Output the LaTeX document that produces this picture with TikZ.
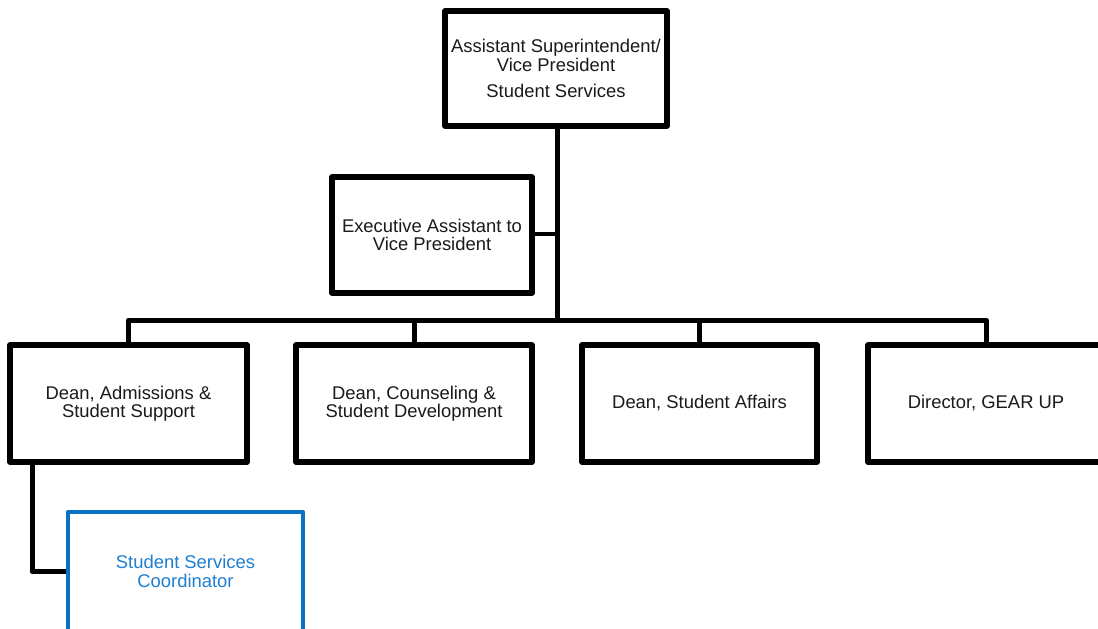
\documentclass[tikz,border=0pt]{standalone}
\usepackage{fontspec}
\setmainfont{Liberation Sans}
\definecolor{ink}{HTML}{1A1A1A}
\definecolor{blueline}{HTML}{0A72C4}
\definecolor{bluetext}{HTML}{1E7FD0}
\begin{document}
\begin{tikzpicture}[x=1pt,y=-1pt,
  every node/.style={font=\fontsize{18.4}{18.5}\selectfont, text=ink},
  box/.style={draw=black, line width=5.2pt, rectangle, align=center, inner sep=0pt, line join=round},
  bluebox/.style={draw=blueline, line width=4.6pt, rectangle, align=center, inner sep=0pt, text=bluetext, line join=round},
  conn/.style={draw=black, line width=5pt, line join=round},
  thinconn/.style={draw=black, line width=3.6pt}]
\useasboundingbox (0,0) rectangle (1098,629);
\clip (0,0) rectangle (1098,629);
\fill[white] (0,0) rectangle (1098,629);

\coordinate (bus) at (557,320);
\coordinate (spine) at (557,126);
\coordinate (exj) at (557,234);

\node[box, minimum width=222pt, minimum height=115pt] (top) at (556,68.5)
  {Assistant Superintendent/\\Vice President\\[8pt]Student Services};
\node[box, minimum width=200pt, minimum height=116pt] (exec) at (432,235)
  {Executive Assistant to\\Vice President};
\node[box, minimum width=237pt, minimum height=117pt] (d1) at (128.5,403.5)
  {Dean, Admissions \&\\Student Support};
\node[box, minimum width=236pt, minimum height=117pt] (d2) at (414,403.5)
  {Dean, Counseling \&\\Student Development};
\node[box, minimum width=235pt, minimum height=117pt] (d3) at (699.5,403.5)
  {Dean, Student Affairs};
\node[box, minimum width=236pt, minimum height=117pt] (d4) at (986,403.5)
  {Director, GEAR UP};
\node[bluebox, minimum width=235pt, minimum height=119pt] (coord) at (185.5,571.5)
  {Student Services\\Coordinator};

\coordinate (d1drop) at (32,462);

\draw[conn] (top.south -| spine) -- (bus);
\draw[thinconn] (exec.east |- exj) -- (exj);
\draw[conn] (bus) -| (d1.north);
\draw[conn] (bus) -| (d4.north);
\draw[conn] (d2.north |- bus) -- (d2.north);
\draw[conn] (d3.north |- bus) -- (d3.north);
\draw[conn] (d1drop) |- (coord.west);
\end{tikzpicture}
\end{document}
